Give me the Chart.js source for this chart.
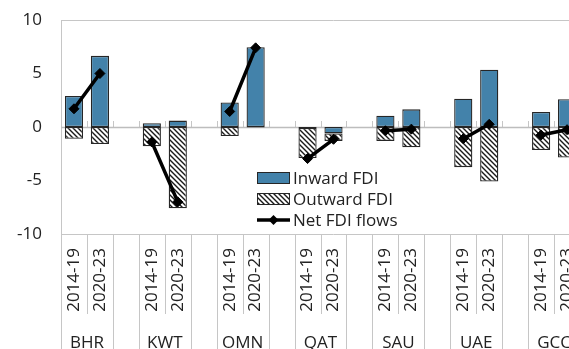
<!DOCTYPE html>
<html>
<head>
<meta charset="utf-8">
<script src="https://cdn.jsdelivr.net/npm/chart.js@4"></script>
<style>
  html, body { margin: 0; padding: 0; background: #fff; overflow: hidden; }
  #wrap { width: 569px; height: 349px; overflow: hidden; }
  canvas { display: block; }
</style>
</head>
<body>
<div id="wrap"><canvas id="fdi" width="612" height="349"></canvas></div>
<script>
// Länder und Zeiträume
const countries = ['BHR', 'KWT', 'OMN', 'QAT', 'SAU', 'UAE', 'GCC'];
const periods = ['2014-19', '2020-23'];

// FDI in % des BIP, je Land zwei Zeiträume
const inwardFDI  = [2.9, 6.65, 0.35, 0.6, 2.3, 7.45, -0.1, -0.6, 1.05, 1.65, 2.65, 5.35, 1.4, 2.6];
const outwardFDI = [-1.1, -1.6, -1.8, -7.6, -0.85, -0.05, -2.8, -0.7, -1.3, -1.9, -3.75, -5.1, -2.15, -2.85];
const netFDI     = [1.7, 5.0, -1.4, -7.0, 1.45, 7.4, -2.95, -1.15, -0.35, -0.2, -1.1, 0.25, -0.75, -0.25];

const yTicks = [-10, -5, 0, 5, 10];

const FONT = "'Open Sans', 'Noto Sans', sans-serif";
const TEXT = '#222';
const LINE = '#c6c6c6';

// pro Land: zwei Balken + eine Lücke
const slotLabels = [];
countries.forEach(() => slotLabels.push(...periods, ''));

function toSlots(values) {
  const out = [];
  countries.forEach((c, i) => out.push(values[2 * i], values[2 * i + 1], null));
  return out;
}

const canvas = document.getElementById('fdi');
const ctx = canvas.getContext('2d');

// Schraffur für Outward FDI
function hatchPattern() {
  const t = 5;
  const c = document.createElement('canvas');
  c.width = t;
  c.height = t;
  const g = c.getContext('2d');
  g.fillStyle = '#fff';
  g.fillRect(0, 0, t, t);
  g.strokeStyle = '#1a1a1a';
  g.lineWidth = 1.4;
  g.beginPath();
  for (const k of [-t, 0, t]) {
    g.moveTo(k - 1, -1);
    g.lineTo(k + t + 1, t + 1);
  }
  g.stroke();
  return ctx.createPattern(c, 'repeat');
}

function seg(c, x1, y1, x2, y2) {
  c.beginPath();
  c.moveTo(x1, y1);
  c.lineTo(x2, y2);
  c.stroke();
}

// Rahmen, Nulllinie, Trennlinien und Ländernamen
const frame = {
  id: 'frame',
  beforeDatasetsDraw(chart) {
    const { ctx: c, chartArea: a, scales: { x, y } } = chart;
    const w = x.getPixelForValue(1) - x.getPixelForValue(0);
    const edge = i => x.getPixelForValue(i) - w / 2;
    const y0 = Math.round(y.getPixelForValue(0));
    const n = slotLabels.length;

    c.save();
    c.strokeStyle = LINE;
    c.lineWidth = 1;
    seg(c, a.left, Math.round(a.top) + 0.5, a.right, Math.round(a.top) + 0.5);
    seg(c, a.left, Math.round(a.bottom) + 0.5, a.right, Math.round(a.bottom) + 0.5);

    // Striche an der Nulllinie
    for (let i = 1; i <= n; i++) {
      const px = Math.round(edge(i)) + 0.5;
      seg(c, px, y0 - 6, px, y0);
    }

    // Trennlinien unter der Achse
    for (let i = 0; i <= n; i++) {
      const px = Math.round(edge(i)) + 0.5;
      const short = i % 3 === 1;
      seg(c, px, a.bottom, px, short ? a.bottom + 80 : chart.height);
    }
    seg(c, Math.round(a.left) + 0.5, a.top, Math.round(a.left) + 0.5, chart.height);

    c.lineWidth = 1.6;
    c.strokeStyle = '#bdbdbd';
    seg(c, a.left, y0 + 0.5, a.right, y0 + 0.5);

    c.fillStyle = TEXT;
    c.font = `17px ${FONT}`;
    c.textAlign = 'center';
    c.textBaseline = 'alphabetic';
    countries.forEach((name, i) => {
      const cx = (x.getPixelForValue(3 * i) + x.getPixelForValue(3 * i + 1)) / 2;
      c.fillText(name, cx, 348);
    });
    c.restore();
  }
};

// Legende im Diagramm
const legendInside = {
  id: 'legendInside',
  afterDraw(chart) {
    const c = chart.ctx;
    const left = 257, top = 178, step = 21, boxW = 33, boxH = 12;
    c.save();
    c.font = `17px ${FONT}`;
    c.textBaseline = 'middle';
    c.textAlign = 'left';
    chart.data.datasets.forEach((ds, i) => {
      const cy = top + i * step;
      if (ds.type === 'line') {
        c.strokeStyle = ds.borderColor;
        c.lineWidth = ds.borderWidth;
        seg(c, left, cy, left + boxW, cy);
        const r = ds.pointRadius, mx = left + boxW / 2;
        c.fillStyle = ds.pointBackgroundColor;
        c.beginPath();
        c.moveTo(mx, cy - r);
        c.lineTo(mx + r, cy);
        c.lineTo(mx, cy + r);
        c.lineTo(mx - r, cy);
        c.closePath();
        c.fill();
      } else {
        c.fillStyle = ds.backgroundColor;
        c.fillRect(left, cy - boxH / 2, boxW, boxH);
        c.strokeStyle = ds.borderColor;
        c.lineWidth = 1;
        c.strokeRect(left + 0.5, Math.round(cy - boxH / 2) + 0.5, boxW - 1, boxH - 1);
      }
      c.fillStyle = TEXT;
      c.fillText(ds.label, left + boxW + 3, cy + 1);
    });
    c.restore();
  }
};

new Chart(ctx, {
  type: 'bar',
  data: {
    labels: slotLabels,
    datasets: [
      {
        label: 'Inward FDI',
        data: toSlots(inwardFDI),
        backgroundColor: '#4382aa',
        borderColor: '#262626',
        borderWidth: 1.3,
        borderSkipped: false,
        barPercentage: 0.7,
        categoryPercentage: 1,
        order: 1
      },
      {
        label: 'Outward FDI',
        data: toSlots(outwardFDI),
        backgroundColor: hatchPattern(),
        borderColor: '#262626',
        borderWidth: 1.3,
        borderSkipped: false,
        barPercentage: 0.7,
        categoryPercentage: 1,
        order: 1
      },
      {
        type: 'line',
        label: 'Net FDI flows',
        data: toSlots(netFDI),
        stack: 'net',
        borderColor: '#000',
        borderWidth: 3.5,
        pointStyle: 'rectRot',
        pointRadius: 5,
        pointBackgroundColor: '#000',
        pointBorderColor: '#000',
        pointBorderWidth: 1,
        spanGaps: false,
        order: 0
      }
    ]
  },
  options: {
    responsive: false,
    animation: false,
    layout: { padding: { top: 20, right: 0, bottom: 0, left: 0 } },
    plugins: {
      legend: { display: false },
      tooltip: { enabled: false }
    },
    scales: {
      x: {
        stacked: true,
        grid: { display: false, drawTicks: false },
        border: { display: false },
        ticks: {
          autoSkip: false,
          minRotation: 90,
          maxRotation: 90,
          padding: 14,
          color: TEXT,
          font: { family: FONT, size: 17 }
        },
        afterFit(s) {
          s.height = 115;
          s.paddingLeft = 0;
          s.paddingRight = 0;
        }
      },
      y: {
        stacked: true,
        min: -10,
        max: 10,
        afterBuildTicks(s) {
          s.ticks = yTicks.map(v => ({ value: v }));
        },
        grid: { display: false, drawTicks: false },
        border: { display: false },
        ticks: {
          padding: 19,
          color: TEXT,
          font: { family: FONT, size: 17 }
        },
        afterFit(s) {
          s.width = 61;
          s.paddingTop = 0;
          s.paddingBottom = 0;
        }
      }
    }
  },
  plugins: [frame, legendInside]
});
</script>
</body>
</html>
